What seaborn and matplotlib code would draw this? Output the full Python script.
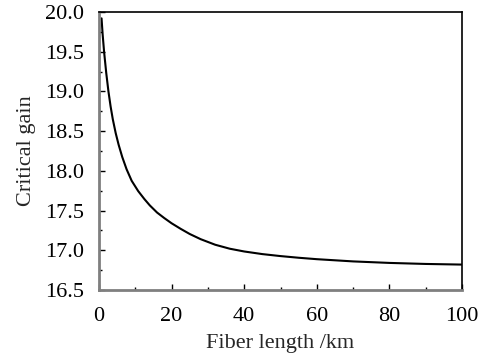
import matplotlib
matplotlib.use("Agg")
import matplotlib.pyplot as plt
import seaborn as sns
import pandas as pd
from matplotlib.ticker import MultipleLocator, FormatStrFormatter

fiber_length = [0.7, 1.0, 1.4, 2.0, 2.6, 3.2, 3.8, 4.6, 5.4, 6.4, 7.6, 9.0, 10.8,
                12.5, 14.0, 16.0, 18.0, 20.0, 22.5, 25.0, 28.0, 32.0, 36.0, 40.0,
                45.0, 50.0, 55.0, 60.0, 70.0, 80.0, 90.0, 100.0]
critical_gain = [19.92, 19.72, 19.50, 19.23, 19.00, 18.81, 18.65, 18.475, 18.33,
                 18.175, 18.02, 17.875, 17.745, 17.645, 17.565, 17.475, 17.405,
                 17.34, 17.27, 17.205, 17.14, 17.07, 17.02, 16.985, 16.952, 16.927,
                 16.906, 16.888, 16.860, 16.841, 16.828, 16.82]

df = pd.DataFrame({"x": fiber_length, "y": critical_gain})

sns.set_theme(style="white")
plt.rcParams["font.family"] = ["Liberation Serif", "DejaVu Serif"]

fig = plt.figure(figsize=(4.84, 3.61), dpi=100)
ax = fig.add_axes([99/484, 1-290/361, (462-99)/484, (290-12)/361])
sns.lineplot(data=df, x="x", y="y", ax=ax, color="black", linewidth=1.5)

ax.set_xlim(0, 100)
ax.set_ylim(16.5, 20.0)
ax.xaxis.set_major_locator(MultipleLocator(20))
ax.xaxis.set_minor_locator(MultipleLocator(10))
ax.yaxis.set_major_locator(MultipleLocator(0.5))
ax.yaxis.set_minor_locator(MultipleLocator(0.25))
ax.xaxis.set_major_formatter(FormatStrFormatter("%d"))
ax.yaxis.set_major_formatter(FormatStrFormatter("%.1f"))

ax.tick_params(which="both", direction="in", colors="black", labelsize=16)
ax.tick_params(axis="x", pad=12)
ax.tick_params(axis="y", pad=11)
ax.tick_params(which="major", length=4, width=1)
ax.tick_params(which="minor", length=2.5, width=1)
ax.tick_params(axis="both", which="both", bottom=True, left=True, top=False, right=False)

for s in ["left", "bottom"]:
    ax.spines[s].set_color("#7f7f7f")
    ax.spines[s].set_linewidth(2)
for s in ["top", "right"]:
    ax.spines[s].set_color("black")
    ax.spines[s].set_linewidth(1.2)

ax.set_xlabel("Fiber length /km", fontsize=16, labelpad=6)
ax.set_ylabel("Critical gain", fontsize=16, labelpad=6)

fig.savefig("out.png", dpi=100)
